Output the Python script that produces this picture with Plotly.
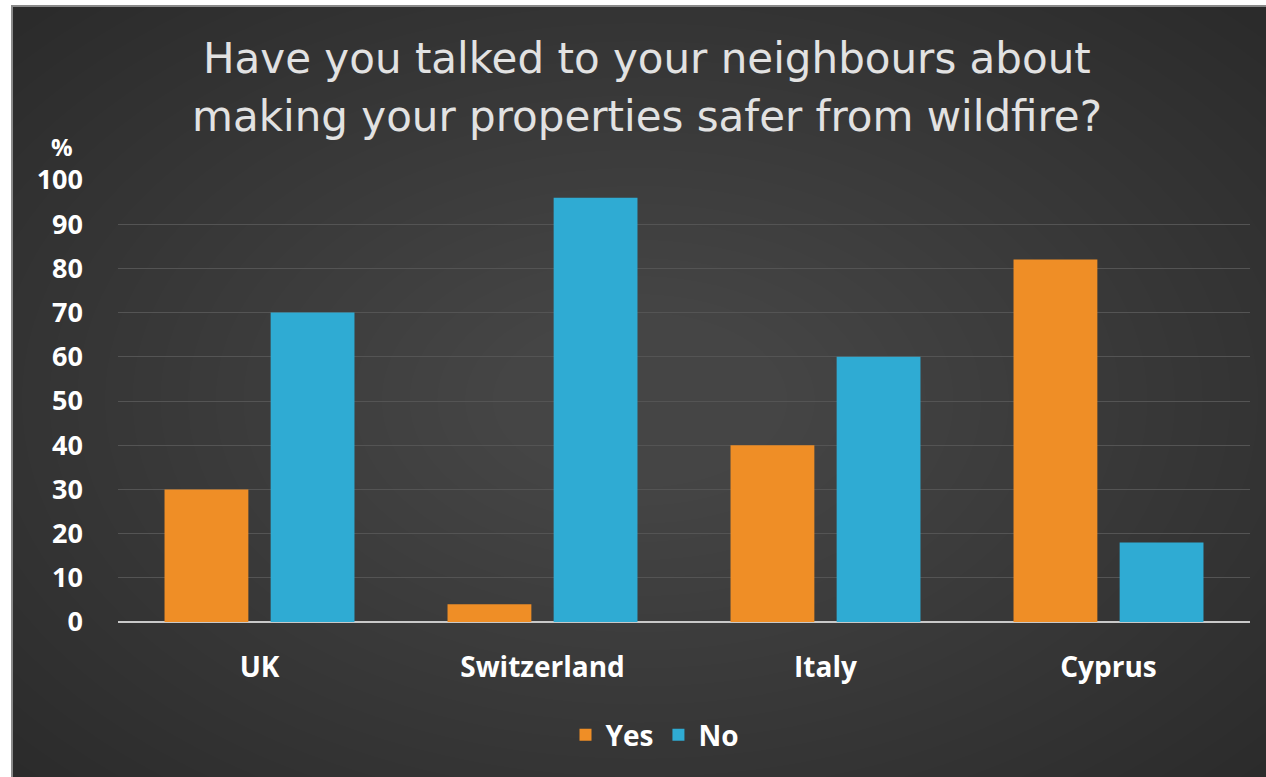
import plotly.graph_objects as go

countries = ["UK", "Switzerland", "Italy", "Cyprus"]
yes_pct = [30, 4, 40, 82]
no_pct = [70, 96, 60, 18]
y_ticks = [0, 10, 20, 30, 40, 50, 60, 70, 80, 90, 100]
title_lines = ["Have you talked to your neighbours about",
               "making your properties safer from wildfire?"]

W, H = 1266, 777
L, R, T, B = 118, 16, 180, 155
pw, ph = W - L - R, H - T - B


def px_x(px):
    return (px - L) / pw


def px_y(py):
    return (H - B - py) / ph


fig = go.Figure()
fig.add_trace(go.Bar(name="Yes", x=countries, y=yes_pct,
                     marker=dict(color="#ef8e26", line=dict(width=0))))
fig.add_trace(go.Bar(name="No", x=countries, y=no_pct,
                     marker=dict(color="#2fabd3", line=dict(width=0))))

shapes = []
# soft radial glow on the dark background
n = 26
cx, cy = 640, 400
for i in range(n):
    f = 1 - i / n
    rx, ry = 120 + 720 * f, 70 + 470 * f
    shapes.append(dict(type="circle", xref="paper", yref="paper", layer="below",
                       x0=px_x(cx - rx), x1=px_x(cx + rx),
                       y0=px_y(cy + ry), y1=px_y(cy - ry),
                       fillcolor="rgba(255,255,255,0.0085)", line=dict(width=0)))
# white page edge and thin frame line
shapes.append(dict(type="rect", xref="paper", yref="paper", layer="above",
                   x0=px_x(0), x1=px_x(11), y0=px_y(H), y1=px_y(0),
                   fillcolor="white", line=dict(width=0)))
shapes.append(dict(type="rect", xref="paper", yref="paper", layer="above",
                   x0=px_x(0), x1=px_x(W), y0=px_y(5), y1=px_y(0),
                   fillcolor="white", line=dict(width=0)))
shapes.append(dict(type="line", xref="paper", yref="paper", layer="above",
                   x0=px_x(12), x1=px_x(12), y0=px_y(H), y1=px_y(5),
                   line=dict(color="#8a8a8a", width=2)))
shapes.append(dict(type="line", xref="paper", yref="paper", layer="above",
                   x0=px_x(11), x1=px_x(W), y0=px_y(6), y1=px_y(6),
                   line=dict(color="#8a8a8a", width=2)))

annotations = [dict(
    text="%", xref="paper", yref="paper", x=px_x(62), y=px_y(146),
    xanchor="center", yanchor="middle", showarrow=False,
    font=dict(family="Open Sans", size=24, color="white", weight="bold"),
)]
for line, ypix in zip(title_lines, [58, 116]):
    annotations.append(dict(
        text=line, xref="paper", yref="paper", x=px_x(647), y=px_y(ypix),
        xanchor="center", yanchor="middle", showarrow=False,
        font=dict(family="DejaVu Sans", size=42, color="#e2e2e2"),
    ))

fig.update_layout(
    width=W, height=H,
    margin=dict(l=L, r=R, t=T, b=B),
    paper_bgcolor="#2b2b2b",
    plot_bgcolor="rgba(0,0,0,0)",
    barmode="group",
    bargap=0.25,
    bargroupgap=0.21,
    shapes=shapes,
    annotations=annotations,
    font=dict(family="Open Sans", color="white"),
    xaxis=dict(
        showgrid=False, zeroline=False, showline=False,
        tickfont=dict(family="Open Sans", size=28, color="white", weight="bold"),
        ticklabelstandoff=26,
    ),
    yaxis=dict(
        range=[0, 100], tickvals=y_ticks,
        showgrid=True, gridcolor="#545454", gridwidth=1,
        zeroline=True, zerolinecolor="#c9c9c9", zerolinewidth=2,
        showline=False,
        tickfont=dict(family="Open Sans", size=27, color="white", weight="bold"),
        ticklabelstandoff=34,
    ),
    legend=dict(
        orientation="h", x=px_x(655), xanchor="center", y=px_y(735), yanchor="middle",
        font=dict(family="Open Sans", size=28, color="white", weight="bold"),
        bgcolor="rgba(0,0,0,0)", itemwidth=30, tracegroupgap=0,
    ),
)

fig.write_html("out.html")
